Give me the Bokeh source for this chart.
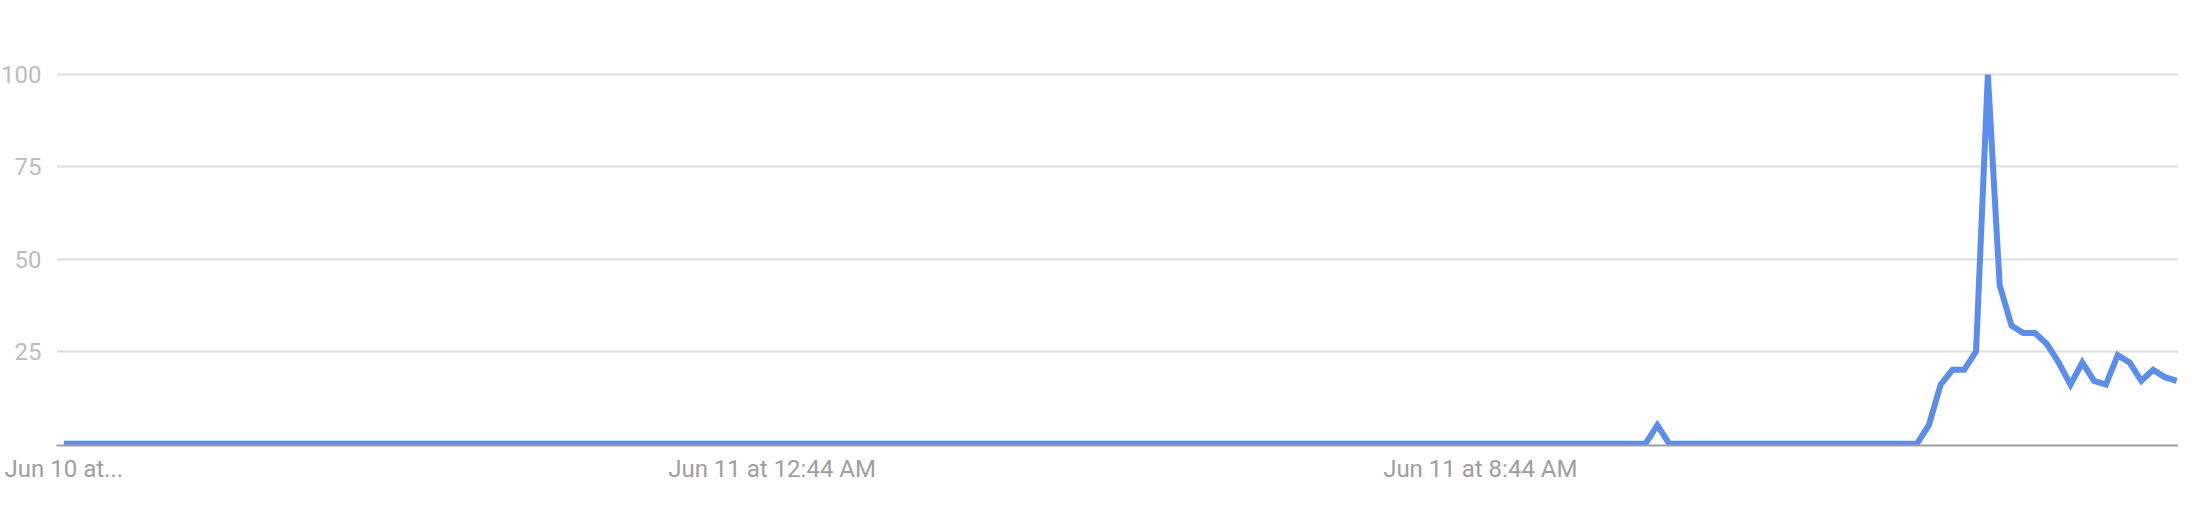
from bokeh.plotting import figure
from bokeh.models import Range1d, FixedTicker
from bokeh.embed import file_html
from bokeh.resources import INLINE

# Interest over time, one point every 8 minutes (180 points), Jun 10 4:44 PM -> Jun 11
values = [
    0, 0, 0, 0, 0, 0, 0, 0, 0, 0, 0, 0, 0, 0, 0, 0, 0, 0, 0, 0,
    0, 0, 0, 0, 0, 0, 0, 0, 0, 0, 0, 0, 0, 0, 0, 0, 0, 0, 0, 0,
    0, 0, 0, 0, 0, 0, 0, 0, 0, 0, 0, 0, 0, 0, 0, 0, 0, 0, 0, 0,
    0, 0, 0, 0, 0, 0, 0, 0, 0, 0, 0, 0, 0, 0, 0, 0, 0, 0, 0, 0,
    0, 0, 0, 0, 0, 0, 0, 0, 0, 0, 0, 0, 0, 0, 0, 0, 0, 0, 0, 0,
    0, 0, 0, 0, 0, 0, 0, 0, 0, 0, 0, 0, 0, 0, 0, 0, 0, 0, 0, 0,
    0, 0, 0, 0, 0, 0, 0, 0, 0, 0, 0, 0, 0, 0, 0, 5, 0, 0, 0, 0,
    0, 0, 0, 0, 0, 0, 0, 0, 0, 0, 0, 0, 0, 0, 0, 0, 0, 0, 5, 16,
    20, 20, 25, 100, 43, 32, 30, 30, 27, 22, 16, 22, 17, 16, 24, 22, 17, 20, 18, 17,
]
steps = list(range(len(values)))

tick_positions = [0, 60, 120]
tick_labels = ["Jun 10 at...", "Jun 11 at 12:44 AM", "Jun 11 at 8:44 AM"]
y_ticks = [25, 50, 75, 100]

FONT = "Roboto"

p = figure(
    width=2180, height=500,
    output_backend="svg", toolbar_location=None,
    x_range=Range1d(-0.62, 179.15),
    y_range=Range1d(-0.5, 109.8),
    min_border_left=40, min_border_right=0,
    min_border_top=38, min_border_bottom=55,
    outline_line_color=None,
    background_fill_color="white", border_fill_color="white",
)
p.styles = {"margin-left": "-2px"}

p.line(steps, values, line_color="#5b8dee", line_width=6, line_join="miter")

# y axis
p.yaxis.ticker = FixedTicker(ticks=y_ticks)
p.yaxis.axis_line_color = None
p.yaxis.major_tick_line_color = None
p.yaxis.minor_tick_line_color = None
p.yaxis.major_label_text_font = FONT
p.yaxis.major_label_text_font_size = "24px"
p.yaxis.major_label_text_color = "#bdbdbd"
p.yaxis.major_label_standoff = 9

# x axis
p.xaxis.ticker = FixedTicker(ticks=tick_positions)
p.xaxis.major_label_overrides = {t: s for t, s in zip(tick_positions, tick_labels)}
p.xaxis.axis_line_color = "#9e9e9e"
p.xaxis.axis_line_width = 2
p.xaxis.major_tick_line_color = None
p.xaxis.minor_tick_line_color = None
p.xaxis.major_label_text_font = FONT
p.xaxis.major_label_text_font_size = "24px"
p.xaxis.major_label_text_color = "#9e9e9e"
p.xaxis.major_label_standoff = 3

# grid
p.xgrid.grid_line_color = None
p.ygrid.ticker = FixedTicker(ticks=y_ticks)
p.ygrid.grid_line_color = "#dedede"
p.ygrid.grid_line_width = 2

open("out.html", "w").write(file_html(p, INLINE))
